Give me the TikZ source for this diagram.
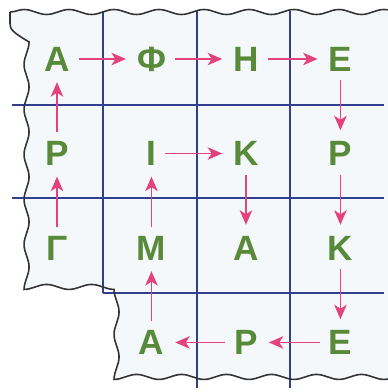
\documentclass[tikz,border=0pt]{standalone}
\usepackage{fontspec}
\usetikzlibrary{positioning,arrows.meta,decorations.pathmorphing}
\newfontfamily\letterfont{Liberation Sans}

\definecolor{leafgreen}{RGB}{88,138,58}
\definecolor{arrowpink}{RGB}{228,66,124}
\definecolor{gridblue}{RGB}{48,64,140}
\definecolor{paper}{RGB}{244,248,250}

\begin{document}
\begin{tikzpicture}[
    x=0.02cm, y=0.02cm,
    node distance=1.89cm,
    on grid,
    letter/.style={text=leafgreen, font=\letterfont\bfseries\fontsize{20}{24}\selectfont, inner sep=1pt},
    arrow/.style={-{Stealth[length=2.9mm, width=2.5mm, inset=0.8mm]}, draw=arrowpink, line width=0.85pt, shorten <=0.14cm, shorten >=0.18cm},
    gridline/.style={draw=gridblue, line width=0.9pt},
    wavy/.style={decorate, decoration={snake, amplitude=0.05cm, segment length=0.9cm}}
]
    \useasboundingbox (0,0) rectangle (388,-392);

    % Paper
    \fill [paper, wavy] (10,-12) -- (385,-12) -- (385,-388) -- (102,-388) -- (102,-293) -- (10,-293) -- cycle;

    % Grid
    \draw [gridline] (12,-105) -- (384,-105);
    \draw [gridline] (12,-198) -- (384,-198);
    \draw [gridline] (103,-293) -- (384,-293);
    \draw [gridline] (103,-11) -- (103,-293);
    \draw [gridline] (197,-11) -- (197,-388);
    \draw [gridline] (290,-11) -- (290,-388);

    % Border
    \draw [black!80, line width=0.9pt, wavy] (10,-12) -- (385,-12) -- (385,-388) -- (102,-388) -- (102,-293) -- (10,-293) -- cycle;

    % Letters
    \node (alphaA) [letter] at (57,-59) {Α};
    \node (phi) [letter, right=of alphaA] {Φ};
    \node (eta) [letter, right=of phi] {Η};
    \node (epsilonA) [letter, right=of eta] {Ε};

    \node (rhoA) [letter, below=of alphaA] {Ρ};
    \node (iota) [letter, right=of rhoA] {Ι};
    \node (kappaA) [letter, right=of iota] {Κ};
    \node (rhoB) [letter, right=of kappaA] {Ρ};

    \node (gamma) [letter, below=of rhoA] {Γ};
    \node (mu) [letter, right=of gamma] {Μ};
    \node (alphaB) [letter, right=of mu] {Α};
    \node (kappaB) [letter, right=of alphaB] {Κ};

    \node (alphaC) [letter, below=of mu] {Α};
    \node (rhoC) [letter, right=of alphaC] {Ρ};
    \node (epsilonB) [letter, right=of rhoC] {Ε};

    % Arrows
    \draw [arrow] (gamma) -- (rhoA);
    \draw [arrow] (rhoA) -- (alphaA);
    \draw [arrow] (alphaA) -- (phi);
    \draw [arrow] (phi) -- (eta);
    \draw [arrow] (eta) -- (epsilonA);
    \draw [arrow] (epsilonA) -- (rhoB);
    \draw [arrow] (rhoB) -- (kappaB);
    \draw [arrow] (kappaB) -- (epsilonB);
    \draw [arrow] (epsilonB) -- (rhoC);
    \draw [arrow] (rhoC) -- (alphaC);
    \draw [arrow] (alphaC) -- (mu);
    \draw [arrow] (mu) -- (iota);
    \draw [arrow] (iota) -- (kappaA);
    \draw [arrow] (kappaA) -- (alphaB);

\end{tikzpicture}
\end{document}
